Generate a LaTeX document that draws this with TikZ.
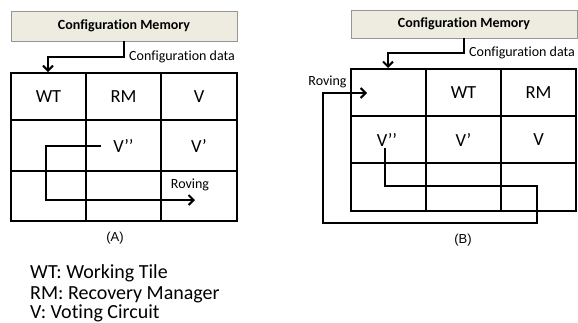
\documentclass[tikz,border=0pt]{standalone}
\usepackage{fontspec}
\setmainfont{Carlito}[Ligatures=NoCommon]
\newfontfamily\capfont{Liberation Sans}
\usetikzlibrary{arrows.meta}
\definecolor{memfill}{RGB}{238,236,225}
\definecolor{memedge}{RGB}{150,150,150}
\tikzset{
  memory/.style={draw=memedge,line width=0.8pt,fill=memfill,inner sep=0pt,
    font=\fontsize{14}{16}\selectfont\bfseries},
  gridline/.style={line width=2.4pt,line cap=rect},
  feed/.style={line width=2pt,-{Straight Barb[length=5pt,width=10pt,line width=2pt]}},
  roam/.style={line width=2pt,-{Straight Barb[length=5pt,width=10pt,line width=2pt]}},
  cell/.style={font=\fontsize{18.5}{20}\selectfont,inner sep=0pt},
  small/.style={font=\fontsize{14}{16}\selectfont,inner sep=0pt},
  caption/.style={font=\capfont\fontsize{13}{15}\selectfont,inner sep=0pt},
  legend/.style={font=\fontsize{20}{22}\selectfont,inner sep=0pt,anchor=base west},
}
\begin{document}
\begin{tikzpicture}[x=1pt,y=-1pt]
\useasboundingbox (0,0) rectangle (578,322);

% ---------------- panel (A) ----------------
\node[memory,minimum width=226pt,minimum height=30pt] (memA) at (124,26) {Configuration Memory};
\coordinate (inA) at (48,72);
\draw[feed] (memA.south) -- ++(0,16) -| (inA);
\node[small,anchor=west] (cdA) at (129,57) {Configuration data};

\draw[gridline] (11,73) rectangle (237,221);
\draw[gridline] (86,73) -- (86,221) (161,73) -- (161,221)
                (11,120) -- (237,120) (11,171) -- (237,171);

\node[cell] (wtA)  at (48.5,96.5)  {WT};
\node[cell] (rmA)  at (123.5,96.5) {RM};
\node[cell] (vA)   at (199,96.5)   {V};
\node[cell] (vppA) at (123.5,145.5) {V’’};
\node[cell] (vpA)  at (199,145.5)  {V’};

\coordinate (rA0) at (101,146);
\coordinate (rA1) at (46,200);
\coordinate (rA2) at (195,200);
\draw[roam] (rA0) -| (rA1) -- (rA2);
\node[small] (rovA) at (190,185) {Roving};
\node[caption] (capA) at (115,238) {(A)};

% ---------------- panel (B) ----------------
\node[memory,minimum width=226pt,minimum height=28pt] (memB) at (464,24) {Configuration Memory};
\coordinate (inB) at (388,68);
\draw[feed] (memB.south) -- ++(0,15) -| (inB);
\node[small,anchor=west] (cdB) at (469,53) {Configuration data};

\draw[gridline] (351,69) rectangle (576,211);
\draw[gridline] (426,69) -- (426,211) (501,69) -- (501,211)
                (351,116) -- (576,116) (351,163) -- (576,163);

\node[cell] (wtB)  at (463.5,92.5)  {WT};
\node[cell] (rmB)  at (538.5,92.5)  {RM};
\node[cell] (vppB) at (387,139.5)   {V’’};
\node[cell] (vpB)  at (463.5,139.5) {V’};
\node[cell] (vB)   at (538.5,139.5) {V};

\coordinate (rB0) at (385,148);
\coordinate (rB1) at (537,186);
\coordinate (rB2) at (323,223);
\coordinate (rB3) at (367,93);
\draw[roam] (rB0) |- (rB1) |- (rB2) |- (rB3);
\node[small] (rovB) at (327.5,82) {Roving};
\node[caption] (capB) at (463,240) {(B)};

% ---------------- legend ----------------
\node[legend] (lg1) at (30,278) {WT: Working Tile};
\node[legend] (lg2) at (30,299) {RM: Recovery Manager};
\node[legend] (lg3) at (30,318) {V: Voting Circuit};
\end{tikzpicture}
\end{document}
